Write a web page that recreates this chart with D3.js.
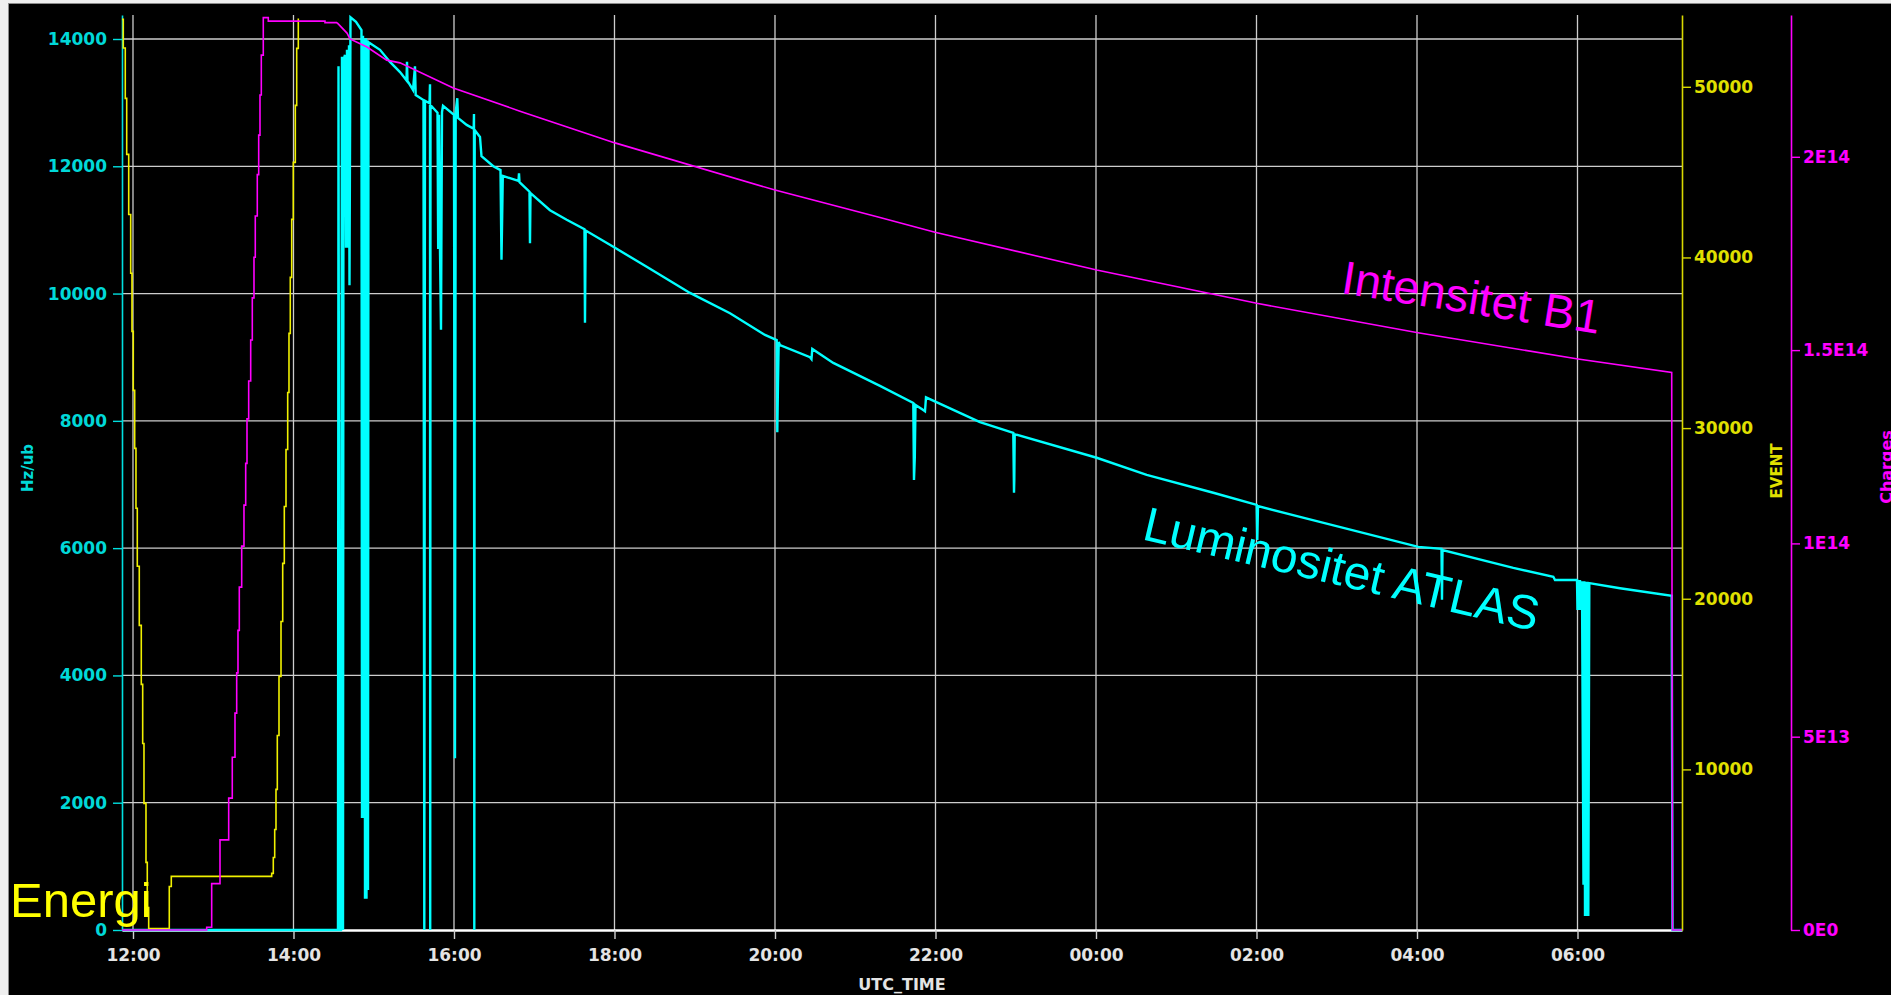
<!DOCTYPE html>
<html>
<head>
<meta charset="utf-8">
<script src="https://cdn.jsdelivr.net/npm/d3@7"></script>
<style>
  body { margin: 0; background: #ededed; overflow: hidden; }
  svg { display: block; }
</style>
</head>
<body>
<script>
"use strict";
(function(){
    // tick values
    const timeTicks = ["12:00", "14:00", "16:00", "18:00", "20:00", "22:00", "00:00", "02:00", "04:00", "06:00"]
    const lumTicks = [0, 2000, 4000, 6000, 8000, 10000, 12000, 14000]
    const eventTicks = [10000, 20000, 30000, 40000, 50000]
    const chargeTicks = [0, 5e13, 1e14, 1.5e14, 2e14]
    const chargeTickLabels = ["0E0", "5E13", "1E14", "1.5E14", "2E14"]

    // Luminositet ATLAS (Hz/ub)
    const lumTimes = [
        "11:51:47", "14:33:16", "14:33:39", "14:34:23", "14:35:31", "14:36:15", "14:37:01", "14:37:23",
        "14:38:30", "14:39:15", "14:40:00", "14:40:45", "14:41:30", "14:41:52", "14:42:37", "14:46:44",
        "14:50:50", "14:51:13", "14:51:58", "14:52:20", "14:53:05", "14:53:28", "14:54:13", "14:54:35",
        "14:55:20", "14:55:42", "14:56:05", "15:04:40", "15:12:09", "15:19:38", "15:24:29", "15:24:52",
        "15:25:14", "15:29:21", "15:30:50", "15:31:22", "15:37:12", "15:37:48", "15:38:19", "15:41:41",
        "15:42:04", "15:42:13", "15:42:26", "15:42:57", "15:47:40", "15:48:11", "15:48:47", "15:49:32",
        "15:50:17", "15:51:02", "15:51:47", "15:59:59", "16:00:44", "16:01:16", "16:02:28", "16:02:59",
        "16:09:29", "16:14:44", "16:14:57", "16:15:11", "16:15:29", "16:19:26", "16:20:34", "16:29:23",
        "16:34:46", "16:35:31", "16:36:02", "16:36:29", "16:48:14", "16:48:36", "16:48:59", "16:56:27",
        "16:56:49", "16:57:12", "17:11:46", "17:24:15", "17:37:34", "17:37:56", "17:38:10", "17:38:28",
        "18:00:22", "18:24:04", "18:56:27", "19:26:21", "19:52:31", "20:01:16", "20:01:43", "20:02:14",
        "20:02:46", "20:03:44", "20:26:10", "20:27:17", "20:27:53", "20:43:35", "21:18:30", "21:43:24",
        "21:43:55", "21:44:31", "21:45:03", "21:50:52", "21:52:09", "21:52:54", "22:33:16", "22:58:10",
        "22:58:42", "22:58:56", "22:59:13", "00:00:31", "00:37:54", "01:27:42", "02:00:09", "02:00:36",
        "02:01:07", "02:32:31", "04:00:58", "04:18:19", "04:18:41", "04:19:04", "05:12:00", "05:41:55",
        "05:43:11", "05:59:38", "06:00:00", "06:00:45", "06:01:07", "06:01:52", "06:02:37", "06:03:22",
        "06:04:29", "06:05:05", "06:05:37", "06:06:22", "06:06:53", "06:07:29", "06:08:05", "06:08:50",
        "06:31:47", "07:10:26", "07:11:02", "07:18:08"
    ]
    const lumValues = [
        0, 0, 13570, 0, 0, 13720, 0, 13670,
        13750, 10720, 13830, 10720, 13900, 10130, 14340, 14270,
        14140, 1760, 14050, 1760, 14010, 490, 14010, 490,
        13980, 630, 13950, 13830, 13640, 13480, 13350, 13640,
        13340, 13200, 13570, 13120, 13040, 0, 13030, 12990,
        13290, 0, 12960, 12950, 12840, 10700, 12810, 10700,
        9430, 12850, 12950, 12810, 2700, 12850, 13070, 12760,
        12650, 12590, 12820, 0, 12570, 12460, 12160, 12000,
        11940, 10530, 11220, 11850, 11770, 11890, 11750, 11600,
        10790, 11580, 11310, 11160, 11010, 9540, 10210, 10990,
        10720, 10420, 10010, 9690, 9350, 9270, 7820, 8590,
        9240, 9190, 9000, 8970, 9130, 8910, 8550, 8280,
        7070, 7420, 8250, 8170, 8150, 8370, 7980, 7810,
        6870, 7100, 7790, 7420, 7150, 6870, 6680, 6130,
        6660, 6490, 6020, 5990, 5190, 5970, 5690, 5550,
        5500, 5500, 5030, 5500, 5030, 5500, 5030, 5480,
        710, 5480, 220, 5470, 220, 5470, 220, 5450,
        5370, 5250, 0, 0
    ]

    // EVENT (energy steps, drawn as a staircase)
    const eventTimes = [
        "11:51:47", "11:52:45", "11:54:14", "11:55:18", "11:56:48", "11:58:17", "11:59:15", "12:00:13",
        "12:01:16", "12:02:14", "12:03:13", "12:04:42", "12:06:12", "12:07:15", "12:08:13", "12:09:43",
        "12:10:41", "12:11:44", "12:27:08", "12:28:38", "13:43:42", "13:44:54", "13:45:57", "13:46:55",
        "13:47:54", "13:49:10", "13:50:40", "13:51:56", "13:53:08", "13:54:24", "13:55:40", "13:56:38",
        "13:57:36", "13:58:40", "13:59:52", "14:01:22", "14:02:24", "14:03:36"
    ]
    const eventValues = [
        53950, 52270, 49320, 46040, 42520, 39070, 35670, 32210,
        28810, 25300, 21900, 18440, 14980, 11520, 8010, 4550,
        1910, 680, 3140, 3730, 3910, 4840, 6480, 8830,
        11990, 15450, 18670, 22070, 25410, 28750, 32090, 35550,
        38830, 42230, 45570, 48910, 52250, 54000
    ]

    // Intensitet B1 (charges): injection steps, then the decay during the fill
    const injTimes = [
        "11:51:47", "12:55:06", "12:58:50", "13:05:03", "13:11:33", "13:14:14", "13:16:16", "13:17:32",
        "13:18:30", "13:19:29", "13:21:16", "13:22:59", "13:24:16", "13:25:14", "13:26:30", "13:28:00",
        "13:29:12", "13:30:28", "13:31:26", "13:32:56", "13:33:59", "13:34:57", "13:35:56", "13:37:25",
        "13:41:10", "14:23:33", "14:32:31"
    ]
    const injValues = [
        0, 0.07e13, 1.2e13, 2.33e13, 3.41e13, 4.47e13, 5.61e13, 6.65e13,
        7.75e13, 8.87e13, 9.93e13, 10.99e13, 12.07e13, 13.22e13, 14.2e13, 15.26e13,
        16.35e13, 17.4e13, 18.47e13, 19.54e13, 20.56e13, 21.6e13, 22.63e13, 23.6e13,
        23.51e13, 23.47e13, 23.47e13
    ]
    const beamTimes = [
        "14:32:31", "14:40:00", "14:42:15", "14:54:57", "15:09:41", "15:19:38", "15:59:29", "16:49:21",
        "18:00:22", "20:00:00", "21:18:30", "21:59:37", "00:00:31", "02:00:09", "04:00:44", "06:00:22",
        "07:10:26", "07:11:02", "07:18:08"
    ]
    const beamValues = [
        23.47e13, 23.2e13, 23.05e13, 22.84e13, 22.5e13, 22.43e13, 21.78e13, 21.18e13,
        20.36e13, 19.14e13, 18.43e13, 18.05e13, 17.07e13, 16.21e13, 15.45e13, 14.77e13,
        14.42e13, 0, 0
    ]

    // dimensions for svg
    const measurements = {
        width: 1891,
        height: 995,
        left: 122,
        right: 1682,
        top: 15,
        bottom: 930,
        chargeAxis: 1791
    }

    // times after 10:00 belong to the first day, earlier ones to the next morning
    function parseT(s) {
        const p = s.split(":").map(Number)
        return new Date(Date.UTC(2012, 9, p[0] < 10 ? 2 : 1, p[0], p[1], p[2] || 0))
    }

    const scaleX = d3.scaleUtc()
        .domain([parseT("11:51:47"), parseT("07:18:08")])
        .range([measurements.left, measurements.right])
    const scaleLum = d3.scaleLinear()
        .domain([0, 14377])
        .range([measurements.bottom, measurements.top])
    const scaleEvent = d3.scaleLinear()
        .domain([589, 54207])
        .range([measurements.bottom, measurements.top])
    const scaleCharge = d3.scaleLinear()
        .domain([0, 2.3668e14])
        .range([measurements.bottom, measurements.top])

    const svgContainer = d3.select("body").append("svg")
        .attr("width", measurements.width)
        .attr("height", measurements.height)

    // window frame and black panel
    svgContainer.append("rect")
        .attr("x", 0).attr("y", 0)
        .attr("width", measurements.width).attr("height", measurements.height)
        .attr("fill", "#efefef")
    svgContainer.append("rect")
        .attr("x", 8).attr("y", 3)
        .attr("width", measurements.width - 8).attr("height", measurements.height - 3)
        .attr("fill", "#8c8c8c")
    svgContainer.append("rect")
        .attr("x", 9).attr("y", 4)
        .attr("width", measurements.width - 9).attr("height", measurements.height - 4)
        .attr("fill", "#000")

    // grid
    const grid = svgContainer.append("g")
        .attr("stroke", "#cdcdcd")
        .attr("stroke-width", 1.3)
    grid.selectAll(".hgrid")
        .data(lumTicks.filter(d => d > 0))
        .enter().append("line")
        .attr("class", "hgrid")
        .attr("x1", measurements.left).attr("x2", measurements.right)
        .attr("y1", d => scaleLum(d)).attr("y2", d => scaleLum(d))
    grid.selectAll(".vgrid")
        .data(timeTicks.map(parseT))
        .enter().append("line")
        .attr("class", "vgrid")
        .attr("x1", d => scaleX(d)).attr("x2", d => scaleX(d))
        .attr("y1", measurements.top).attr("y2", measurements.bottom)

    drawAxes()
    plotData()
    drawLabels()

    function styleAxis(g, color, textColor) {
        g.attr("font-family", "'DejaVu Sans', Verdana, sans-serif")
            .attr("font-size", 17)
            .attr("font-weight", "bold")
            .style("color", color)
        g.selectAll(".tick text").attr("fill", textColor)
        g.select(".domain").attr("stroke-width", 1.6)
        g.selectAll(".tick line").attr("stroke-width", 1.4)
    }

    function drawAxes() {
        let xAxis = d3.axisBottom(scaleX)
            .tickValues(timeTicks.map(parseT))
            .tickFormat(d3.utcFormat("%H:%M"))
            .tickSize(9).tickSizeOuter(0).tickPadding(10)
        let gx = svgContainer.append("g")
            .attr("transform", `translate(0,${measurements.bottom})`)
            .call(xAxis)
        styleAxis(gx, "#cfcfcf", "#e4e4e4")
        gx.select(".domain").attr("stroke", "#ffffff").attr("stroke-width", 2.6)

        let lumAxis = d3.axisLeft(scaleLum)
            .tickValues(lumTicks)
            .tickFormat(d3.format("d"))
            .tickSize(9).tickSizeOuter(0).tickPadding(6)
        let gl = svgContainer.append("g")
            .attr("transform", `translate(${measurements.left},0)`)
            .call(lumAxis)
        styleAxis(gl, "#00e0e0", "#00d8d8")

        let eventAxis = d3.axisRight(scaleEvent)
            .tickValues(eventTicks)
            .tickFormat(d3.format("d"))
            .tickSize(9).tickSizeOuter(0).tickPadding(3)
        let ge = svgContainer.append("g")
            .attr("transform", `translate(${measurements.right},0)`)
            .call(eventAxis)
        styleAxis(ge, "#d8d800", "#e0e000")

        let chargeAxis = d3.axisRight(scaleCharge)
            .tickValues(chargeTicks)
            .tickFormat((d, i) => chargeTickLabels[i])
            .tickSize(9).tickSizeOuter(0).tickPadding(3)
        let gc = svgContainer.append("g")
            .attr("transform", `translate(${measurements.chargeAxis},0)`)
            .call(chargeAxis)
        styleAxis(gc, "#ff00ff", "#ff00ff")
    }

    function plotData() {
        svgContainer.append("clipPath").attr("id", "plotClip")
            .append("rect")
            .attr("x", measurements.left).attr("y", measurements.top - 1)
            .attr("width", measurements.right - measurements.left + 1)
            .attr("height", measurements.bottom - measurements.top + 4)

        const plot = svgContainer.append("g").attr("clip-path", "url(#plotClip)")

        const lumData = lumTimes.map((t, i) => ({ t: parseT(t), v: lumValues[i] }))
        const eventData = eventTimes.map((t, i) => ({ t: parseT(t), v: eventValues[i] }))
        const injData = injTimes.map((t, i) => ({ t: parseT(t), v: injValues[i] }))
        const beamData = beamTimes.map((t, i) => ({ t: parseT(t), v: beamValues[i] }))

        const lumLine = d3.line().x(d => scaleX(d.t)).y(d => scaleLum(d.v))
        const eventLine = d3.line().x(d => scaleX(d.t)).y(d => scaleEvent(d.v)).curve(d3.curveStepAfter)
        const injLine = d3.line().x(d => scaleX(d.t)).y(d => scaleCharge(d.v)).curve(d3.curveStepAfter)
        const beamLine = d3.line().x(d => scaleX(d.t)).y(d => scaleCharge(d.v))

        plot.append("path").datum(lumData)
            .attr("d", lumLine)
            .attr("fill", "none").attr("stroke", "#00ffff")
            .attr("stroke-width", 2.4).attr("stroke-linejoin", "miter")

        plot.append("path").datum(eventData)
            .attr("d", eventLine)
            .attr("fill", "none").attr("stroke", "#f0f000")
            .attr("stroke-width", 1.6)

        plot.append("path").datum(injData)
            .attr("d", injLine)
            .attr("fill", "none").attr("stroke", "#ff00ff")
            .attr("stroke-width", 1.6)
        plot.append("path").datum(beamData)
            .attr("d", beamLine)
            .attr("fill", "none").attr("stroke", "#ff00ff")
            .attr("stroke-width", 1.6)
    }

    function drawLabels() {
        const axisFont = "'DejaVu Sans', Verdana, sans-serif"
        svgContainer.append("text")
            .attr("x", 902).attr("y", 990)
            .attr("text-anchor", "middle")
            .attr("font-family", axisFont).attr("font-weight", "bold").attr("font-size", 16)
            .attr("fill", "#e4e4e4")
            .text("UTC_TIME")

        svgContainer.append("text")
            .attr("transform", "translate(33,468) rotate(-90)")
            .attr("text-anchor", "middle")
            .attr("font-family", axisFont).attr("font-weight", "bold").attr("font-size", 15)
            .attr("fill", "#00d8d8")
            .text("Hz/ub")

        svgContainer.append("text")
            .attr("transform", "translate(1782,471) rotate(-90)")
            .attr("text-anchor", "middle")
            .attr("font-family", axisFont).attr("font-weight", "bold").attr("font-size", 15)
            .attr("fill", "#e0e000")
            .text("EVENT")

        svgContainer.append("text")
            .attr("transform", "translate(1892,467) rotate(-90)")
            .attr("text-anchor", "middle")
            .attr("font-family", axisFont).attr("font-weight", "bold").attr("font-size", 16)
            .attr("fill", "#ff00ff")
            .text("Charges")

        // series annotations drawn on the plot
        const noteFont = "'Liberation Sans', Arial, sans-serif"
        svgContainer.append("text")
            .attr("transform", "translate(1340,293) rotate(9)")
            .attr("font-family", noteFont).attr("font-size", 47)
            .attr("fill", "#ff00ff")
            .text("Intensitet B1")

        svgContainer.append("text")
            .attr("transform", "translate(1141,539) rotate(13.2)")
            .attr("font-family", noteFont).attr("font-size", 48)
            .attr("fill", "#00ffff")
            .text("Luminositet ATLAS")

        svgContainer.append("text")
            .attr("x", 10).attr("y", 917)
            .attr("font-family", noteFont).attr("font-size", 49)
            .attr("fill", "#ffff00")
            .text("Energi")
    }
})()
</script>
</body>
</html>
